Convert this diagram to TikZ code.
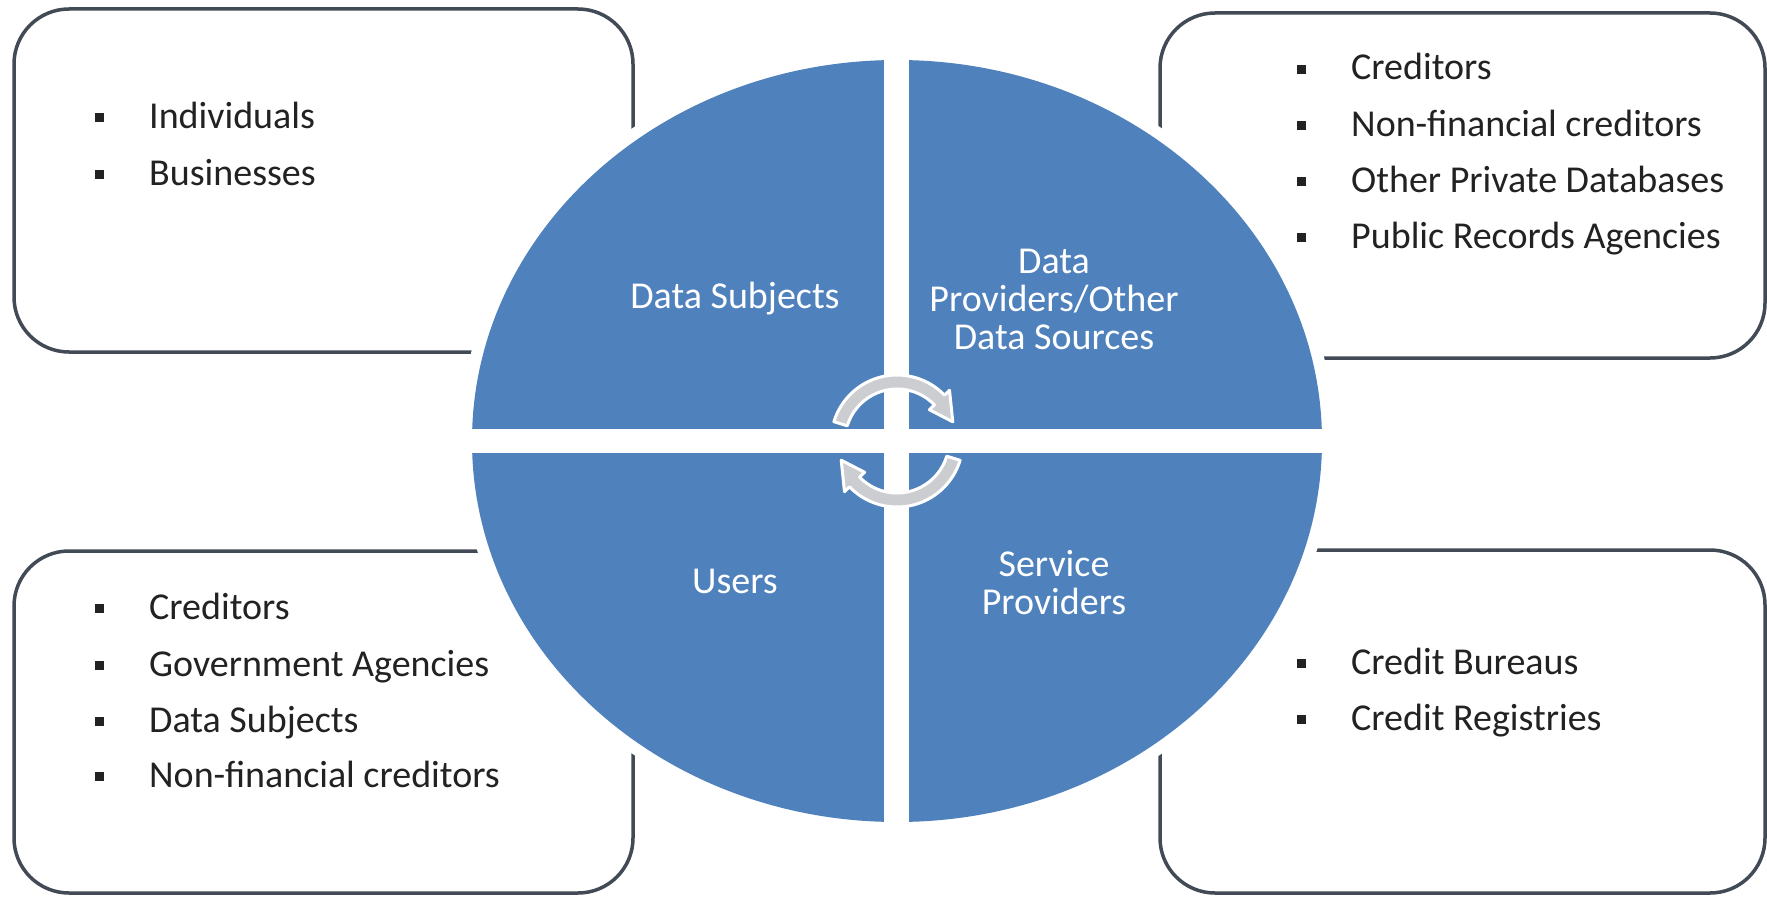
\documentclass[tikz,border=0pt]{standalone}
\usepackage{fontspec}
\setmainfont{Carlito}
\definecolor{wheelblue}{RGB}{79,129,189}
\definecolor{framegray}{RGB}{66,74,86}
\definecolor{ink}{RGB}{34,34,34}
\definecolor{cyclegray}{RGB}{204,205,208}
% square bullet followed by the gap before the item text
\newcommand{\sqbul}{\makebox[54pt][l]{\raisebox{6pt}{\rule{9pt}{9pt}}}}

\begin{document}
\begin{tikzpicture}[x=1pt,y=1pt,
  panel/.style={draw=framegray, line width=3.5pt, rounded corners=55pt, fill=white},
  entry/.style={anchor=base west, inner sep=0pt, text=ink, font=\fontsize{38}{46}\selectfont},
  qlabel/.style={align=center, inner sep=0pt, text=white, font=\fontsize{38}{38}\selectfont},
  cyclearrow/.style={fill=cyclegray, draw=white, line width=3pt, line join=round}]

\useasboundingbox (0,0) rectangle (1767,-899);
\fill[white] (0,0) rectangle (1767,-899);

% four rounded panels
\draw[panel] (14,-9) rectangle (633,-352);
\draw[panel] (1160,-13) rectangle (1765,-358);
\draw[panel] (14,-551) rectangle (633,-893);
\draw[panel] (1160,-550) rectangle (1765,-893);

% the wheel: white halo, blue disc, white cross
\fill[white] (897,-441) ellipse [x radius=437pt, y radius=393pt];
\fill[wheelblue] (897,-441) ellipse [x radius=425pt, y radius=381pt];
\fill[white] (884,-50) rectangle (909,-833);
\fill[white] (462,-429) rectangle (1332,-453);

% cycle arrows in the middle
\begin{scope}[shift={(897,-441)}]
  \draw[cyclearrow] (163:52pt) arc[start angle=163, end angle=44, radius=52pt]
    -- (44:45pt) -- (19:59pt) -- (44:73pt) -- (44:66pt)
    arc[start angle=44, end angle=163, radius=66pt] -- cycle;
  \draw[cyclearrow] (-17:52pt) arc[start angle=-17, end angle=-136, radius=52pt]
    -- (-136:45pt) -- (-161:59pt) -- (-136:73pt) -- (-136:66pt)
    arc[start angle=-136, end angle=-17, radius=66pt] -- cycle;
\end{scope}

% quadrant labels
\node[qlabel] (qsubjects) at (735,-299) {Data Subjects};
\node[qlabel] (qproviders) at (1054,-299) {Data\\Providers/Other\\Data Sources};
\node[qlabel] (qusers) at (735,-581) {Users};
\node[qlabel] (qservice) at (1054,-583) {Service\\Providers};

% top-left panel
\node[entry] (tl1) at (95,-128) {\sqbul Individuals};
\node[entry] (tl2) at (95,-185) {\sqbul Businesses};

% top-right panel
\node[entry] (tr1) at (1297,-80) {\sqbul Creditors};
\node[entry] (tr2) at (1297,-136) {\sqbul Non-financial creditors};
\node[entry] (tr3) at (1297,-192) {\sqbul Other Private Databases};
\node[entry] (tr4) at (1297,-248) {\sqbul Public Records Agencies};

% bottom-left panel
\node[entry] (bl1) at (95,-619) {\sqbul Creditors};
\node[entry] (bl2) at (95,-676) {\sqbul Government Agencies};
\node[entry] (bl3) at (95,-732) {\sqbul Data Subjects};
\node[entry] (bl4) at (95,-787) {\sqbul Non-financial creditors};

% bottom-right panel
\node[entry] (br1) at (1297,-674) {\sqbul Credit Bureaus};
\node[entry] (br2) at (1297,-730) {\sqbul Credit Registries};
\end{tikzpicture}
\end{document}
